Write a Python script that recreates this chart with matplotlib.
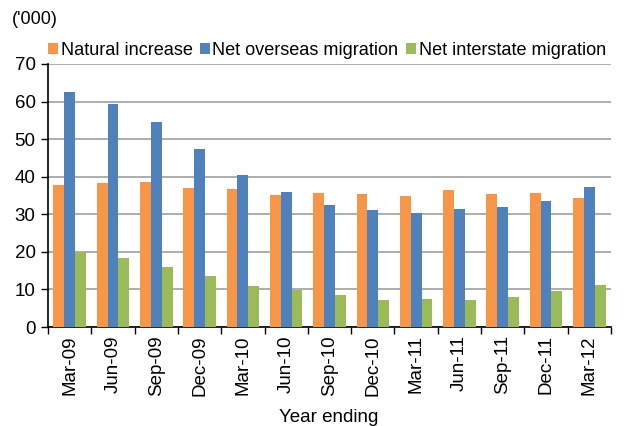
import numpy as np
import matplotlib.pyplot as plt
from matplotlib.ticker import FixedLocator, NullFormatter

plt.rcParams['font.family'] = ['Liberation Sans', 'DejaVu Sans']

# ---- Data ----
periods = ['Mar-09', 'Jun-09', 'Sep-09', 'Dec-09', 'Mar-10', 'Jun-10', 'Sep-10',
           'Dec-10', 'Mar-11', 'Jun-11', 'Sep-11', 'Dec-11', 'Mar-12']
natural = [37.9, 38.4, 38.6, 37.1, 36.8, 35.2, 35.7, 35.4, 35.0, 36.4, 35.4, 35.7, 34.4]
overseas = [62.6, 59.4, 54.6, 47.4, 40.5, 35.9, 32.4, 31.1, 30.4, 31.3, 32.0, 33.6, 37.2]
interstate = [20.0, 18.3, 16.0, 13.5, 11.0, 9.8, 8.4, 7.3, 7.5, 7.3, 8.1, 9.6, 11.1]

colors = ['#F79646', '#4F81BD', '#9BBB59']
labels = ['Natural increase', 'Net overseas migration', 'Net interstate migration']

fig = plt.figure(figsize=(6.27, 4.26), dpi=100)
ax = fig.add_axes([48/627, 1 - 327/426, 563/627, 263/426])

x = np.arange(len(periods))
w = 0.25
for i, (vals, c, lab) in enumerate(zip([natural, overseas, interstate], colors, labels)):
    ax.bar(x + (i - 1) * w, vals, w, color=c, label=lab, zorder=3, linewidth=0)

ax.set_xlim(-0.5, len(periods) - 0.5)
ax.set_ylim(0, 70)
ax.set_yticks(range(0, 71, 10))
ax.yaxis.grid(True, color='#A0A0A0', linewidth=1.2, zorder=0)

ax.xaxis.set_major_locator(FixedLocator(np.arange(-0.5, len(periods), 1)))
ax.xaxis.set_major_formatter(NullFormatter())
ax.xaxis.set_minor_locator(FixedLocator(x))
ax.set_xticklabels(periods, minor=True, rotation=90, fontsize=13.5)
ax.tick_params(axis='x', which='major', direction='out', length=5, width=1)
ax.tick_params(axis='x', which='minor', length=0, pad=6)
ax.tick_params(axis='y', direction='out', length=5, width=1, labelsize=13.5, pad=4)

for s in ['top', 'right']:
    ax.spines[s].set_visible(False)
for s in ['left', 'bottom']:
    ax.spines[s].set_color('black')
    ax.spines[s].set_linewidth(1.2)

fig.text(329/627, 1 - 417/426, 'Year ending', fontsize=13.5, ha='center', va='center')

ax.legend(loc='lower left', bbox_to_anchor=(-0.01, 1.0), ncol=3, frameon=False,
          fontsize=13.1, handlelength=0.55, handleheight=0.55, handletextpad=0.15,
          columnspacing=0.4, borderaxespad=0.1, borderpad=0.2)

fig.text(12/627, 1 - 19/426, "('000)", fontsize=13, va='center', ha='left')

fig.savefig('out.png', dpi=100)
